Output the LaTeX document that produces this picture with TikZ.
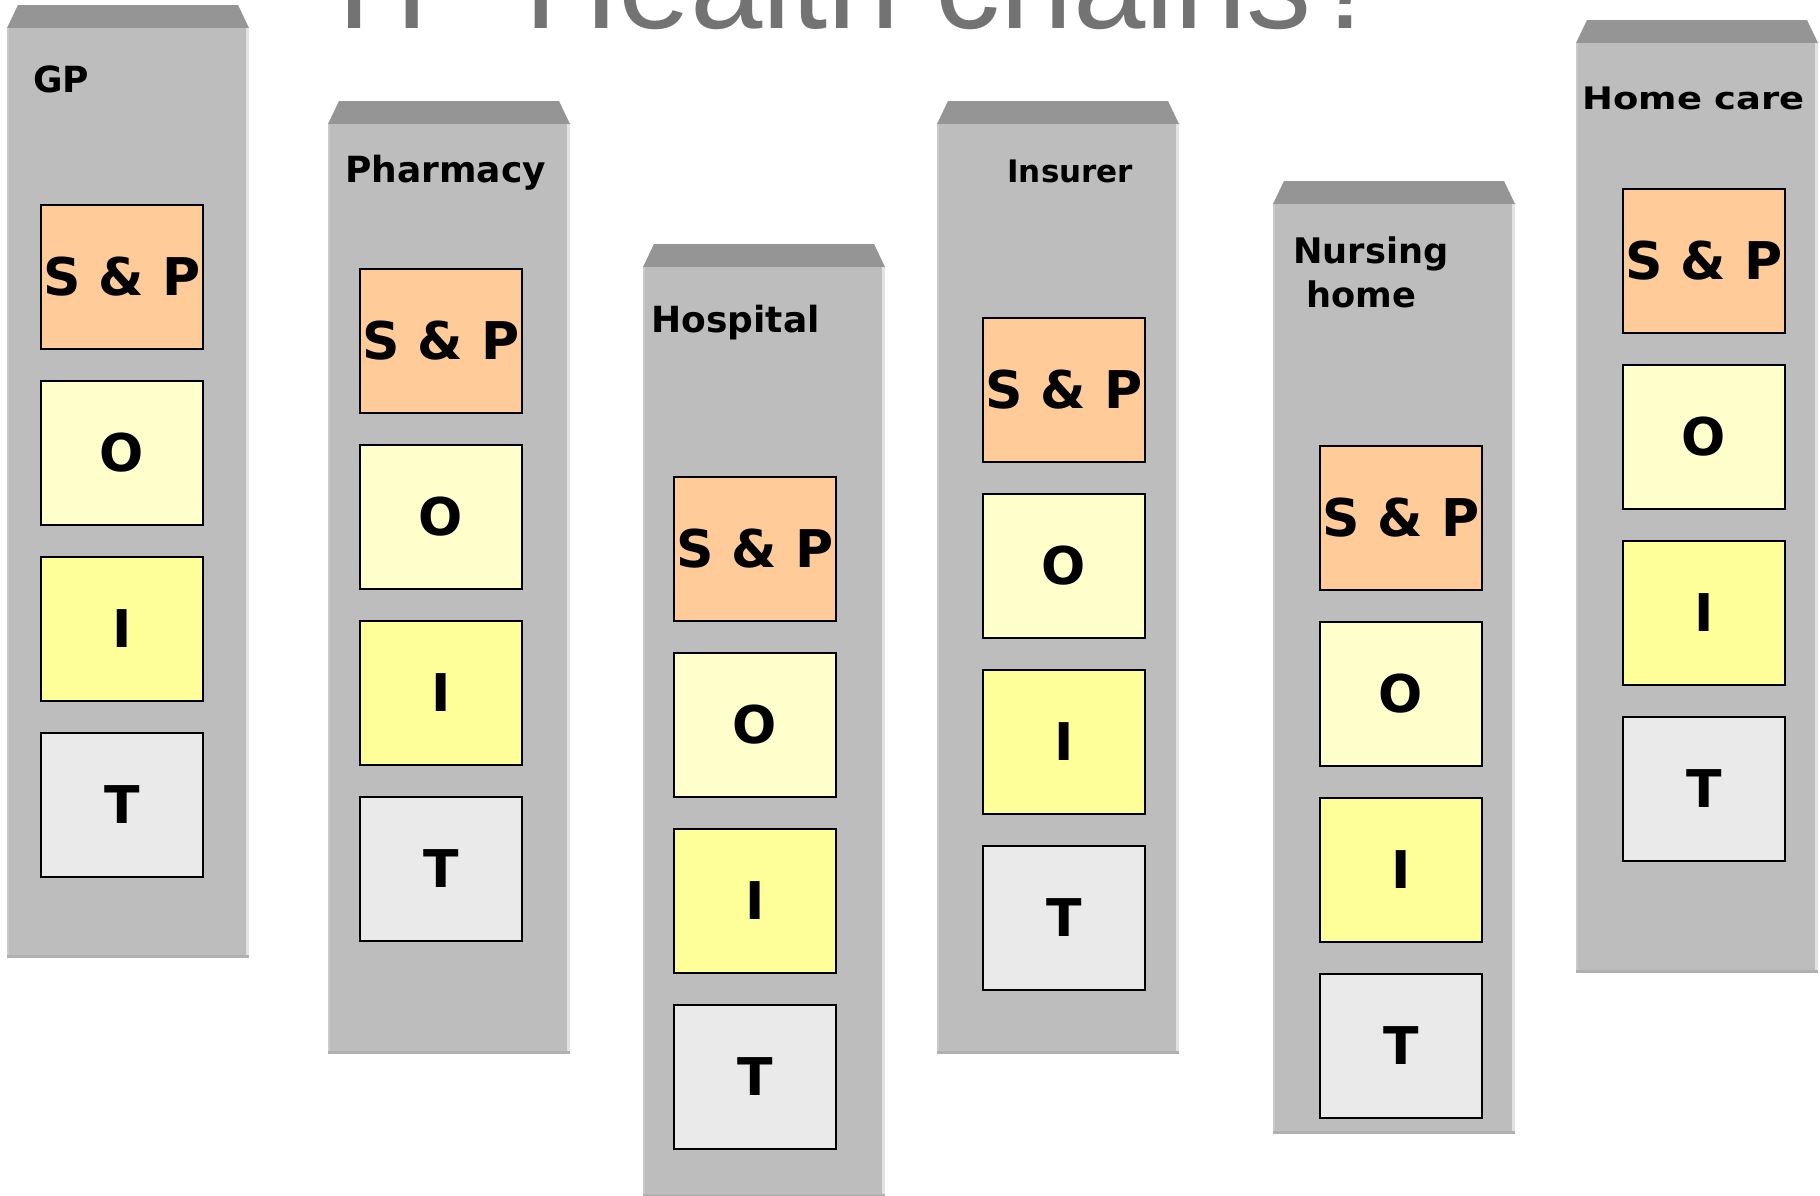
\documentclass[tikz,border=0pt]{standalone}
\usepackage{fontspec}
\usepackage{graphicx}
\newfontfamily\labfont{DejaVu Sans}
\newfontfamily\titlefont{Liberation Sans}
\definecolor{bodygray}{HTML}{BDBDBD}
\definecolor{topgray}{HTML}{959595}
\definecolor{edgelight}{HTML}{E2E2E2}
\definecolor{edgeleft}{HTML}{C9C9C9}
\definecolor{edgebottom}{HTML}{B0B0B0}
\definecolor{spcol}{HTML}{FFCC99}
\definecolor{ocol}{HTML}{FFFFCC}
\definecolor{icol}{HTML}{FFFF99}
\definecolor{tcol}{HTML}{EAEAEA}
\definecolor{titlegray}{HTML}{737373}
\tikzset{
  cell/.style={draw=black, line width=0.7pt, minimum width=81pt, minimum height=72pt,
    inner sep=0pt, font=\labfont\bfseries\fontsize{26pt}{30pt}\selectfont},
  spbox/.style={cell, fill=spcol},
  obox/.style={cell, fill=ocol},
  ibox/.style={cell, fill=icol},
  tbox/.style={cell, fill=tcol},
  collabel/.style={anchor=base west, inner sep=0pt, font=\labfont\bfseries\fontsize{18pt}{22pt}\selectfont},
}
% #1 name, #2 column x, #3 top of roof, #4 box left x, #5 first box top y
\newcommand\hccolumn[5]{%
  \fill[topgray] (#2,#3+23) -- (#2+11,#3) -- (#2+231,#3) -- (#2+242,#3+23) -- cycle;
  \fill[bodygray] (#2,#3+23) rectangle (#2+242,#3+953);
  \fill[edgeleft] (#2,#3+23) rectangle (#2+2,#3+953);
  \fill[edgelight] (#2+239,#3+23) rectangle (#2+242,#3+953);
  \fill[edgebottom] (#2,#3+950) rectangle (#2+242,#3+953);
  \node[spbox] (#1-sp) at (#4+81,#5+72) {S \& P};
  \node[obox] (#1-o) at (#4+81,#5+248) {O};
  \node[ibox] (#1-i) at (#4+81,#5+424) {I};
  \node[tbox] (#1-t) at (#4+81,#5+600) {T};
}
\begin{document}
\begin{tikzpicture}[x=0.5pt, y=-0.5pt]
\useasboundingbox (0,0) rectangle (1820,1195);
\clip (0,0) rectangle (1820,1195);
\fill[white] (0,0) rectangle (1820,1195);

\node[anchor=base west, inner sep=0pt, text=titlegray,
  font=\titlefont\fontsize{65pt}{70pt}\selectfont] (title) at (336,28) {IT\textendash Health chains?};

\hccolumn{gp}{7}{5}{41}{205}
\hccolumn{ph}{328}{101}{360}{269}
\hccolumn{ho}{643}{244}{674}{477}
\hccolumn{in}{937}{101}{983}{318}
\hccolumn{nu}{1273}{181}{1320}{446}
\hccolumn{hc}{1576}{20}{1623}{189}

\node[collabel] (gp-label) at (33,92) {GP};
\node[collabel] (ph-label) at (345,182) {Pharmacy};
\node[collabel] (ho-label) at (651,332) {Hospital};
\node[collabel, font=\labfont\bfseries\fontsize{15.5pt}{18pt}\selectfont] (in-label) at (1007,182) {Insurer};
\node[collabel, font=\labfont\bfseries\fontsize{17.6pt}{21pt}\selectfont] (nu-label1) at (1293,263) {Nursing};
\node[collabel, font=\labfont\bfseries\fontsize{17.6pt}{21pt}\selectfont] (nu-label2) at (1306,307) {home};
\node[collabel, font=\labfont\bfseries\fontsize{15.5pt}{18pt}\selectfont] (hc-label) at (1582,109) {\scalebox{1.19}[1]{Home care}};
\end{tikzpicture}
\end{document}
